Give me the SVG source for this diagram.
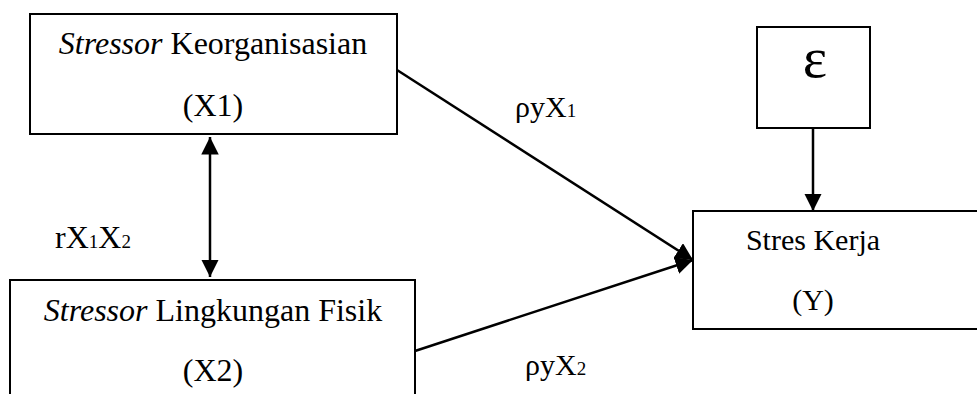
<svg xmlns="http://www.w3.org/2000/svg" width="977" height="394" viewBox="0 0 977 394">
  <style>
    .box { fill: #fff; stroke: #000; stroke-width: 2; }
    text { font-family: "Liberation Serif", "Times New Roman", Times, serif; fill: #000; }
    .t { font-size: 30px; text-anchor: middle; }
    .tl { font-size: 32px; text-anchor: middle; }
    .lbl { font-size: 30px; }
    .lbl-l { font-size: 32px; }
    .sub { font-size: 19px; }
    .eps { font-size: 58px; text-anchor: middle; }
    .edge { stroke: #000; stroke-width: 2.5; fill: none; }
  </style>
  <defs>
    <marker id="head" viewBox="0 0 10 10" refX="10" refY="5" markerWidth="7" markerHeight="7" orient="auto-start-reverse" markerUnits="strokeWidth">
      <path d="M0,0 L10,5 L0,10 z" fill="#000"/>
    </marker>
  </defs>

  <!-- independent variable X1 -->
  <g id="node-x1">
    <rect class="box" x="30" y="14" width="367" height="120"/>
    <text class="tl" x="213" y="54"><tspan font-style="italic">Stressor</tspan> Keorganisasian</text>
    <text class="tl" x="213" y="116">(X1)</text>
  </g>

  <!-- independent variable X2 -->
  <g id="node-x2">
    <rect class="box" x="10" y="280" width="405" height="130"/>
    <text class="tl" x="213" y="321"><tspan font-style="italic">Stressor</tspan> Lingkungan Fisik</text>
    <text class="tl" x="213" y="381">(X2)</text>
  </g>

  <!-- residual term -->
  <g id="node-eps">
    <rect class="box" x="757" y="27" width="113" height="101"/>
    <text class="eps" x="815" y="77">ε</text>
  </g>

  <!-- dependent variable Y -->
  <g id="node-y">
    <rect class="box" x="693" y="211" width="300" height="118"/>
    <text class="t" x="813" y="250">Stres Kerja</text>
    <text class="t" x="813" y="310">(Y)</text>
  </g>

  <g id="connectors">
    <line class="edge" x1="210" y1="137" x2="210" y2="277" marker-start="url(#head)" marker-end="url(#head)"/>
    <line class="edge" x1="397" y1="70" x2="693" y2="260" marker-end="url(#head)"/>
    <line class="edge" x1="415" y1="351" x2="693" y2="260" marker-end="url(#head)"/>
    <line class="edge" x1="813" y1="128" x2="813" y2="211" marker-end="url(#head)"/>
  </g>

  <g id="labels">
    <text class="lbl-l" x="55" y="248">rX<tspan class="sub">1</tspan>X<tspan class="sub">2</tspan></text>
    <text class="lbl" x="515" y="117">ρyX<tspan class="sub">1</tspan></text>
    <text class="lbl" x="525" y="375">ρyX<tspan class="sub">2</tspan></text>
  </g>
</svg>
